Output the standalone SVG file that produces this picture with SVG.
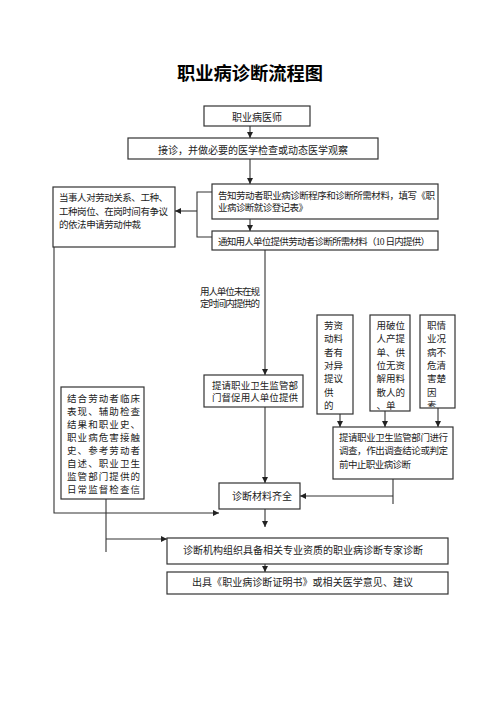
<svg xmlns="http://www.w3.org/2000/svg" width="500" height="707" viewBox="0 0 500 707">
<defs>
<style>
.box{fill:#fff;stroke:#333;stroke-width:1.2}
.ln{fill:none;stroke:#333;stroke-width:1.1}
.t{font-family:"Liberation Serif","Noto Sans CJK SC",serif;font-size:9.5px;fill:#222}
.t10{font-family:"Liberation Serif","Noto Sans CJK SC",serif;font-size:10px;fill:#222}
.title{font-family:"Liberation Serif","Noto Sans CJK SC",serif;font-size:18px;font-weight:bold;fill:#000}
</style>
<marker id="ah" markerUnits="userSpaceOnUse" markerWidth="6" markerHeight="6" refX="6" refY="3" orient="auto">
<path d="M0,0 L6,3 L0,6 z" fill="#222"/>
</marker>
<clipPath id="cA"><rect x="317" y="315" width="36" height="98"/></clipPath>
<clipPath id="cB"><rect x="370" y="315" width="40" height="95"/></clipPath>
<clipPath id="cC"><rect x="420" y="315" width="35" height="92"/></clipPath>
</defs>
<rect width="500" height="707" fill="#fff"/>
<text class="title" x="177" y="80" textLength="146" lengthAdjust="spacingAndGlyphs">职业病诊断流程图</text>

<g id="connectors">
<line class="ln" x1="250" y1="126" x2="250" y2="138" marker-end="url(#ah)"/>
<line class="ln" x1="250" y1="159" x2="250" y2="184" marker-end="url(#ah)"/>
<line class="ln" x1="250" y1="219" x2="250" y2="231" marker-end="url(#ah)"/>
<path class="ln" d="M212,192 H197 V237 H212"/>
<line class="ln" x1="197" y1="211" x2="175" y2="211" marker-end="url(#ah)"/>
<path class="ln" d="M54,247 V513 H219" marker-end="url(#ah)"/>
<line class="ln" x1="265" y1="250" x2="265" y2="375" marker-end="url(#ah)"/>
<line class="ln" x1="265" y1="407" x2="265" y2="483" marker-end="url(#ah)"/>
<line class="ln" x1="340" y1="414" x2="340" y2="427" marker-end="url(#ah)"/>
<line class="ln" x1="385" y1="411" x2="385" y2="427" marker-end="url(#ah)"/>
<line class="ln" x1="438" y1="408" x2="438" y2="427" marker-end="url(#ah)"/>
<line class="ln" x1="393" y1="479" x2="393" y2="504"/>
<line class="ln" x1="393" y1="496" x2="300" y2="496" marker-end="url(#ah)"/>
<line class="ln" x1="265" y1="509" x2="265" y2="527" marker-end="url(#ah)"/>
<line class="ln" x1="265" y1="538" x2="265" y2="572" marker-end="url(#ah)"/>
<line class="ln" x1="106" y1="499" x2="106" y2="552"/>
<line class="ln" x1="106" y1="539" x2="167" y2="539" marker-end="url(#ah)"/>
</g>

<g id="n-doctor">
<rect class="box" x="204" y="106" width="106" height="20"/>
<text class="t10" x="257" y="120.5" text-anchor="middle">职业病医师</text>
</g>
<g id="n-reception">
<rect class="box" x="128" y="138" width="250" height="21"/>
<text class="t10" x="253" y="153.5" text-anchor="middle" textLength="190" lengthAdjust="spacing">接诊，并做必要的医学检查或动态医学观察</text>
</g>
<g id="n-inform">
<rect class="box" x="212" y="184" width="226" height="35"/>
<text class="t" x="218" y="198.5" textLength="217" lengthAdjust="spacing">告知劳动者职业病诊断程序和诊断所需材料，填写《职</text>
<text class="t" x="218" y="211" textLength="90" lengthAdjust="spacing">业病诊断就诊登记表》</text>
</g>
<g id="n-notify">
<rect class="box" x="212" y="231" width="226" height="19"/>
<text class="t" x="218" y="244.5" textLength="212" lengthAdjust="spacing">通知用人单位提供劳动者诊断所需材料（10 日内提供）</text>
</g>
<g id="n-dispute">
<rect class="box" x="53" y="187" width="122" height="60"/>
<text class="t" x="59" y="201" textLength="109" lengthAdjust="spacing">当事人对劳动关系、工种、</text>
<text class="t" x="59" y="215" textLength="109" lengthAdjust="spacing">工种岗位、在岗时间有争议</text>
<text class="t" x="59" y="228" textLength="82" lengthAdjust="spacing">的依法申请劳动仲裁</text>
</g>
<g id="label-late">
<text class="t" x="200" y="295" textLength="60" lengthAdjust="spacing">用人单位未在规</text>
<text class="t" x="200" y="307" textLength="60" lengthAdjust="spacing">定时间内提供的</text>
</g>
<g id="n-urge">
<rect class="box" x="204" y="375" width="99" height="32"/>
<text class="t" x="212" y="388.5" textLength="86" lengthAdjust="spacing">提请职业卫生监管部</text>
<text class="t" x="212" y="400.5" textLength="86" lengthAdjust="spacing">门督促用人单位提供</text>
</g>
<g id="n-objection">
<rect class="box" x="317" y="315" width="36" height="99"/>
<g clip-path="url(#cA)" class="t">
<text x="324" y="328.5">劳资</text>
<text x="324" y="342">动料</text>
<text x="324" y="355.5">者有</text>
<text x="324" y="369">对异</text>
<text x="324" y="382">提议</text>
<text x="324" y="395.5">供</text>
<text x="324" y="409">的</text>
</g>
</g>
<g id="n-bankrupt">
<rect class="box" x="370" y="315" width="40" height="96"/>
<g clip-path="url(#cB)" class="t">
<text x="376.5" y="328.5">用破位</text>
<text x="376.5" y="342">人产提</text>
<text x="376.5" y="355.5">单、供</text>
<text x="376.5" y="369">位无资</text>
<text x="376.5" y="382">解用料</text>
<text x="376.5" y="395.5">散人的</text>
<text x="376.5" y="409">、单</text>
</g>
</g>
<g id="n-unclear">
<rect class="box" x="420" y="315" width="35" height="93"/>
<g clip-path="url(#cC)" class="t">
<text x="427" y="328.5">职情</text>
<text x="427" y="342">业况</text>
<text x="427" y="355.5">病不</text>
<text x="427" y="369">危清</text>
<text x="427" y="382">害楚</text>
<text x="427" y="395.5">因</text>
<text x="427" y="409">素</text>
</g>
</g>
<g id="n-investigate">
<rect class="box" x="333" y="427" width="120" height="52"/>
<text class="t" x="339" y="440.5" textLength="109" lengthAdjust="spacing">提请职业卫生监管部门进行</text>
<text class="t" x="339" y="454" textLength="109" lengthAdjust="spacing">调查，作出调查结论或判定</text>
<text class="t" x="339" y="467.5" textLength="72" lengthAdjust="spacing">前中止职业病诊断</text>
</g>
<g id="n-combine">
<rect class="box" x="61" y="387" width="83" height="112"/>
<g class="t">
<text x="67" y="401.5" textLength="73" lengthAdjust="spacing">结合劳动者临床</text>
<text x="67" y="414.6" textLength="73" lengthAdjust="spacing">表现、辅助检查</text>
<text x="67" y="427.7" textLength="73" lengthAdjust="spacing">结果和职业史、</text>
<text x="67" y="440.8" textLength="73" lengthAdjust="spacing">职业病危害接触</text>
<text x="67" y="453.9" textLength="73" lengthAdjust="spacing">史、参考劳动者</text>
<text x="67" y="467" textLength="73" lengthAdjust="spacing">自述、职业卫生</text>
<text x="67" y="480.1" textLength="73" lengthAdjust="spacing">监管部门提供的</text>
<text x="67" y="493.2" textLength="73" lengthAdjust="spacing">日常监督检查信</text>
</g>
</g>
<g id="n-complete">
<rect class="box" x="219" y="483" width="81" height="26"/>
<text class="t10" x="262" y="499.5" text-anchor="middle" textLength="60" lengthAdjust="spacing">诊断材料齐全</text>
</g>
<g id="n-expert">
<rect class="box" x="167" y="538" width="281" height="26"/>
<text class="t10" x="303" y="554" text-anchor="middle" textLength="240" lengthAdjust="spacing">诊断机构组织具备相关专业资质的职业病诊断专家诊断</text>
</g>
<g id="n-certificate">
<rect class="box" x="167" y="572" width="281" height="22"/>
<text class="t10" x="302.5" y="586" text-anchor="middle" textLength="221" lengthAdjust="spacing">出具《职业病诊断证明书》或相关医学意见、建议</text>
</g>
</svg>
